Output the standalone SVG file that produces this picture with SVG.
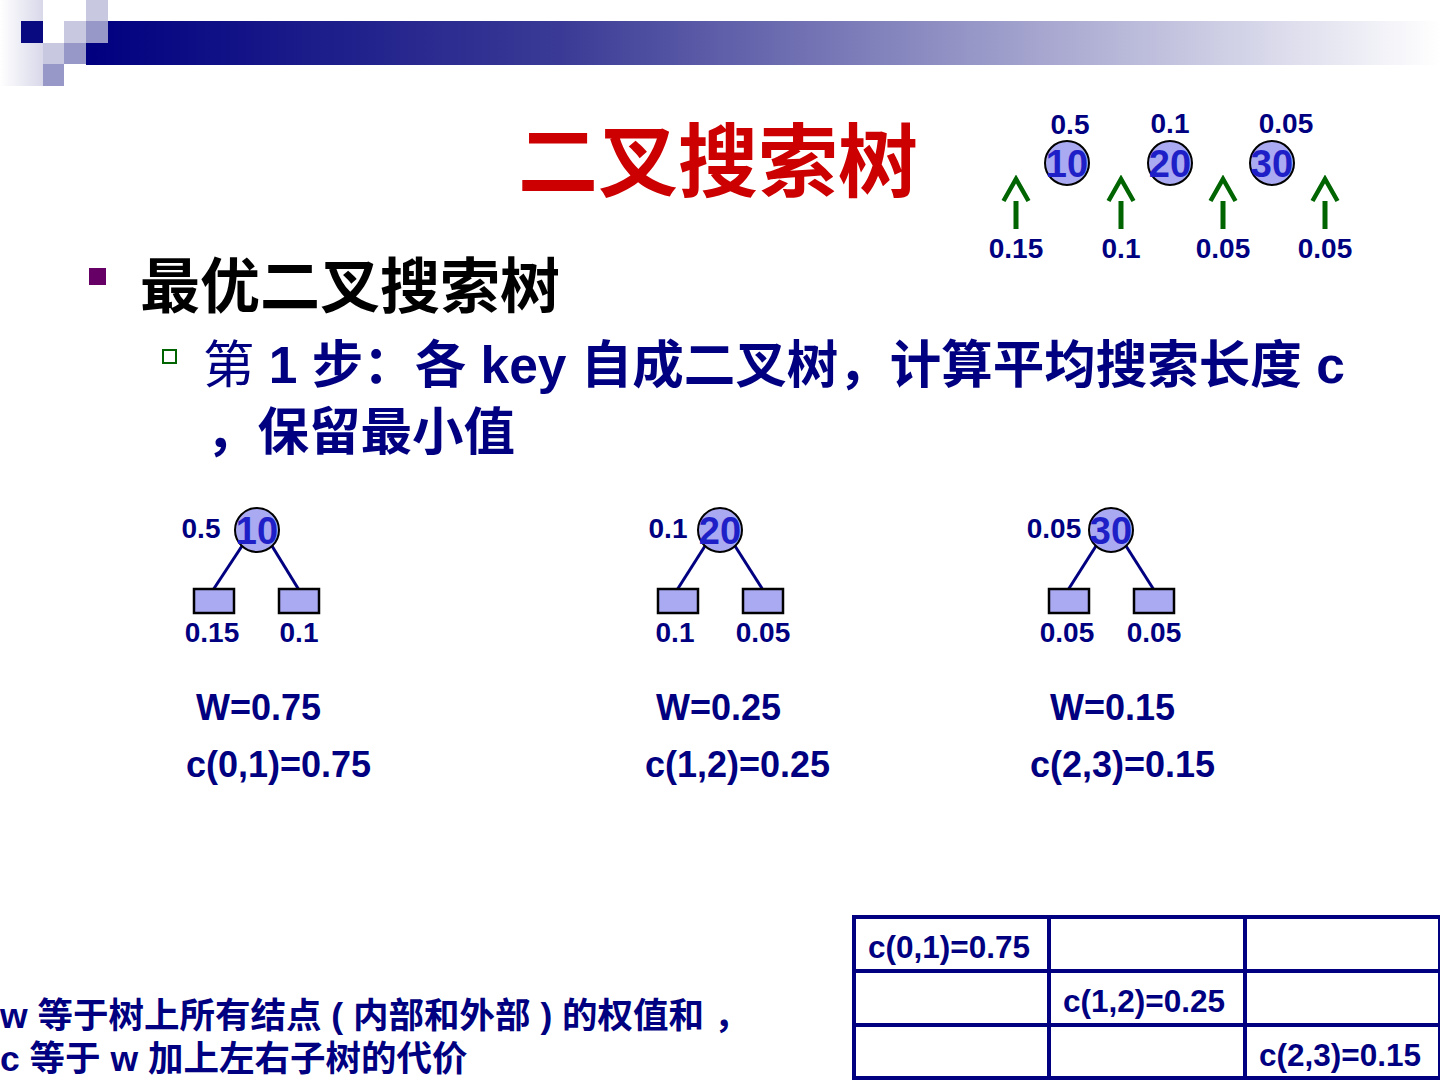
<svg xmlns="http://www.w3.org/2000/svg" width="1440" height="1080" viewBox="0 0 1440 1080">
<defs>
<linearGradient id="bar" x1="0" y1="0" x2="1" y2="0">
<stop offset="0" stop-color="#000080"/>
<stop offset="0.35" stop-color="#3a3a96"/>
<stop offset="1" stop-color="#ffffff"/>
</linearGradient>
<linearGradient id="edge" x1="0" y1="0" x2="1" y2="0">
<stop offset="0" stop-color="#ffffff"/>
<stop offset="1" stop-color="#d8d8ea"/>
</linearGradient>
<marker id="ah" viewBox="0 0 28 30" refX="2" refY="15" markerWidth="28" markerHeight="30" markerUnits="userSpaceOnUse" orient="auto">
<path d="M2,2.5 L24,15 L2,27.5" fill="none" stroke="#006400" stroke-width="4.5"/>
</marker>
</defs>
<style>
text{font-family:"Liberation Sans","Noto Sans CJK SC",sans-serif;font-weight:bold}
.navy{fill:#000080}
.num{fill:#1f1fc8;font-size:38px;text-anchor:middle}
.lbl{fill:#000080;font-size:28px;text-anchor:middle}
.lbl2{fill:#000080;font-size:28px;text-anchor:middle}
.node{fill:#aaaaf2;stroke:#000000;stroke-width:2}
.leaf{fill:#aaaaf2;stroke:#000000;stroke-width:2.5}
.edge{stroke:#000080;stroke-width:3;fill:none}
.arr{stroke:#006400;stroke-width:5;fill:none}
.wc{fill:#000080;font-size:36px}
.note{fill:#000080;font-size:35.5px}
.cell{fill:#000080;font-size:31.5px}
.grid{stroke:#000080;stroke-width:4;fill:none}
</style>
<rect width="1440" height="1080" fill="#ffffff"/>
<g id="header">
<rect x="0" y="0" width="43" height="86" fill="url(#edge)"/>
<rect x="86" y="21" width="1354" height="44" fill="url(#bar)"/>
<rect x="86" y="0" width="22" height="21" fill="#c8c8e0"/>
<rect x="21" y="21" width="22" height="22" fill="#0a0a80"/>
<rect x="43" y="21" width="21" height="22" fill="#ffffff"/>
<rect x="64" y="21" width="22" height="22" fill="#c8c8e0"/>
<rect x="86" y="21" width="22" height="22" fill="#9898c8"/>
<rect x="43" y="43" width="21" height="21" fill="#c8c8e0"/>
<rect x="64" y="43" width="22" height="21" fill="#9898c8"/>
<rect x="43" y="64" width="21" height="22" fill="#9898c8"/>
</g>
<g id="title"><text x="718" y="190" text-anchor="middle" font-size="80" fill="#cc0000">二叉搜索树</text></g>
<g id="bullet1">
<rect x="89" y="268" width="17" height="17" fill="#660066"/>
<text x="140" y="308" font-size="60" fill="#000000">最优二叉搜索树</text>
</g>
<g id="bullet2">
<rect x="163" y="350" width="13" height="13" fill="#ffffff" stroke="#006400" stroke-width="2"/>
<text x="203" y="383" font-size="51.5" class="navy"><tspan font-weight="normal">第</tspan> 1 步：各 key 自成二叉树，计算平均搜索长度 c</text>
<text x="206" y="450" font-size="51.5" class="navy">，保留最小值</text>
</g>
<g id="keys">
<g id="k10"><circle cx="1067" cy="163" r="22" class="node"/><text x="1067" y="177" class="num">10</text><text x="1070" y="134" class="lbl">0.5</text></g>
<g id="k20"><circle cx="1170" cy="163" r="22" class="node"/><text x="1170" y="177" class="num">20</text><text x="1170" y="133" class="lbl">0.1</text></g>
<g id="k30"><circle cx="1272" cy="163" r="22" class="node"/><text x="1272" y="177" class="num">30</text><text x="1286" y="133" class="lbl">0.05</text></g>
<text x="1016" y="258" class="lbl">0.15</text>
<text x="1121" y="258" class="lbl">0.1</text>
<text x="1223" y="258" class="lbl">0.05</text>
<text x="1325" y="258" class="lbl">0.05</text>
</g>
<g id="connectors">
<line x1="1016" y1="229" x2="1016" y2="201" class="arr" marker-end="url(#ah)"/>
<line x1="1121" y1="229" x2="1121" y2="201" class="arr" marker-end="url(#ah)"/>
<line x1="1223" y1="229" x2="1223" y2="201" class="arr" marker-end="url(#ah)"/>
<line x1="1325" y1="229" x2="1325" y2="201" class="arr" marker-end="url(#ah)"/>
<line x1="242" y1="546" x2="213" y2="590" class="edge"/>
<line x1="272" y1="546" x2="299" y2="590" class="edge"/>
<line x1="705" y1="546" x2="677" y2="590" class="edge"/>
<line x1="735" y1="546" x2="763" y2="590" class="edge"/>
<line x1="1096" y1="546" x2="1068" y2="590" class="edge"/>
<line x1="1126" y1="546" x2="1154" y2="590" class="edge"/>
</g>
<g id="tree1">
<circle cx="257" cy="530" r="22" class="node"/><text x="257" y="544" class="num">10</text>
<text x="201" y="538" class="lbl2">0.5</text>
<rect x="194" y="589" width="40" height="24" class="leaf"/>
<rect x="279" y="589" width="40" height="24" class="leaf"/>
<text x="212" y="642" class="lbl2">0.15</text>
<text x="299" y="642" class="lbl2">0.1</text>
<text x="196" y="720" class="wc">W=0.75</text>
<text x="186" y="777" class="wc">c(0,1)=0.75</text>
</g>
<g id="tree2">
<circle cx="720" cy="530" r="22" class="node"/><text x="720" y="544" class="num">20</text>
<text x="668" y="538" class="lbl2">0.1</text>
<rect x="658" y="589" width="40" height="24" class="leaf"/>
<rect x="743" y="589" width="40" height="24" class="leaf"/>
<text x="675" y="642" class="lbl2">0.1</text>
<text x="763" y="642" class="lbl2">0.05</text>
<text x="656" y="720" class="wc">W=0.25</text>
<text x="645" y="777" class="wc">c(1,2)=0.25</text>
</g>
<g id="tree3">
<circle cx="1111" cy="530" r="22" class="node"/><text x="1111" y="544" class="num">30</text>
<text x="1054" y="538" class="lbl2">0.05</text>
<rect x="1049" y="589" width="40" height="24" class="leaf"/>
<rect x="1134" y="589" width="40" height="24" class="leaf"/>
<text x="1067" y="642" class="lbl2">0.05</text>
<text x="1154" y="642" class="lbl2">0.05</text>
<text x="1050" y="720" class="wc">W=0.15</text>
<text x="1030" y="777" class="wc">c(2,3)=0.15</text>
</g>
<g id="table">
<rect x="854" y="917" width="586" height="161" class="grid"/>
<line x1="854" y1="971" x2="1440" y2="971" class="grid"/>
<line x1="854" y1="1025" x2="1440" y2="1025" class="grid"/>
<line x1="1049" y1="917" x2="1049" y2="1078" class="grid"/>
<line x1="1245" y1="917" x2="1245" y2="1078" class="grid"/>
<text x="868" y="958" class="cell">c(0,1)=0.75</text>
<text x="1063" y="1012" class="cell">c(1,2)=0.25</text>
<text x="1259" y="1066" class="cell">c(2,3)=0.15</text>
</g>
<g id="note">
<text x="0" y="1028" class="note">w 等于树上所有结点 ( 内部和外部 ) 的权值和 ，</text>
<text x="0" y="1071" class="note">c 等于 w 加上左右子树的代价</text>
</g>
</svg>
